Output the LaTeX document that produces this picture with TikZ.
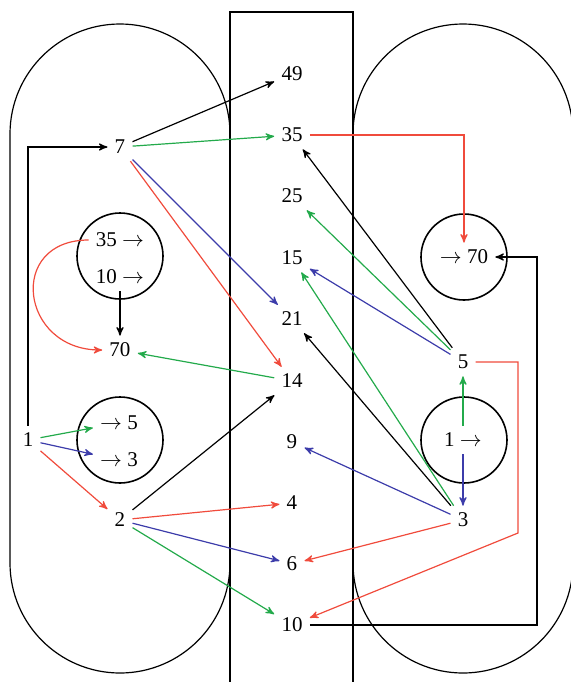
\documentclass[tikz,border=0pt]{standalone}
\usepackage{fontspec}
\setmainfont{Liberation Serif}
\usetikzlibrary{arrows}
\definecolor{cred}{RGB}{240,75,60}
\definecolor{cgreen}{RGB}{35,170,75}
\definecolor{cblue}{RGB}{60,60,170}
\tikzset{
  pool/.style={draw,circle,thick,minimum size=43pt,inner sep=0pt},
  stadium/.style={draw,semithick,rounded corners=55pt}
}
\begin{document}
\begin{tikzpicture}[x=0.5pt,y=-0.5pt,>=stealth',semithick,font=\fontsize{10.5}{12}\selectfont]
\useasboundingbox (0,0) rectangle (571,682);
% regions
\draw[stadium] (10,24) rectangle (230,673);
\draw[stadium] (353,24) rectangle (573,673);
\draw[semithick] (230,682) |- (353,12) -- (353,682);
% pools
\node[pool] (lcA) at (120,256) {};
\node[pool] (lcB) at (120,440) {};
\node[pool] (rcA) at (464,257) {};
\node[pool] (rcB) at (464,440) {};
% middle column
\node (n49) at (292,74) {49};
\node (n35) at (292,135) {35};
\node (n25) at (292,196) {25};
\node (n15) at (292,258) {15};
\node (n21) at (292,319) {21};
\node (n14) at (292,381) {14};
\node (n9) at (292,442) {9};
\node (n4) at (292,503) {4};
\node (n6) at (292,564) {6};
\node (n10) at (292,625) {10};
% left side
\node (l7) at (120,147) {7};
\node (lin35) at (120,240) {35 $\rightarrow$};
\node (lin10) at (120,277) {10 $\rightarrow$};
\node (l70) at (120,350) {70};
\node (l1) at (28,440) {1};
\node (lto5) at (119,423) {$\rightarrow$ 5};
\node (lto3) at (119,460) {$\rightarrow$ 3};
\node (l2) at (120,520) {2};
% right side
\node (rto70) at (464,257) {$\rightarrow$ 70};
\node (r5) at (463,362) {5};
\node (rin1) at (463,440) {1 $\rightarrow$};
\node (r3) at (463,520) {3};
\coordinate (rbend) at (537,257);
\coordinate (rkink) at (518,533);
% black
\path[->]
(l7) edge (n49)
(lin10) edge (l70)
(l2) edge (n14)
(r5) edge (n35)
(r3) edge (n21);
\draw[->] (l1) |- (l7);
\draw[->] (n10) -| (rbend) -- (rto70);
% green
\path[->,cgreen]
(l7) edge (n35)
(n14) edge (l70)
(l1) edge (lto5)
(l2) edge (n10)
(r5) edge (n25)
(r3) edge (n15)
(rin1) edge (r5);
% blue
\path[->,cblue]
(l7) edge (n21)
(l1) edge (lto3)
(l2) edge (n6)
(r5) edge (n15)
(r3) edge (n9)
(rin1) edge (r3);
% red
\path[->,cred]
(l7) edge (n14)
(l1) edge (l2)
(l2) edge (n4)
(r3) edge (n6)
(lin35.west) edge[out=180,in=180,looseness=1.9] (l70.west);
\draw[->,cred] (n35) -| (rto70);
\draw[->,cred] (r5) -| (rkink) -- (n10);
\end{tikzpicture}
\end{document}
